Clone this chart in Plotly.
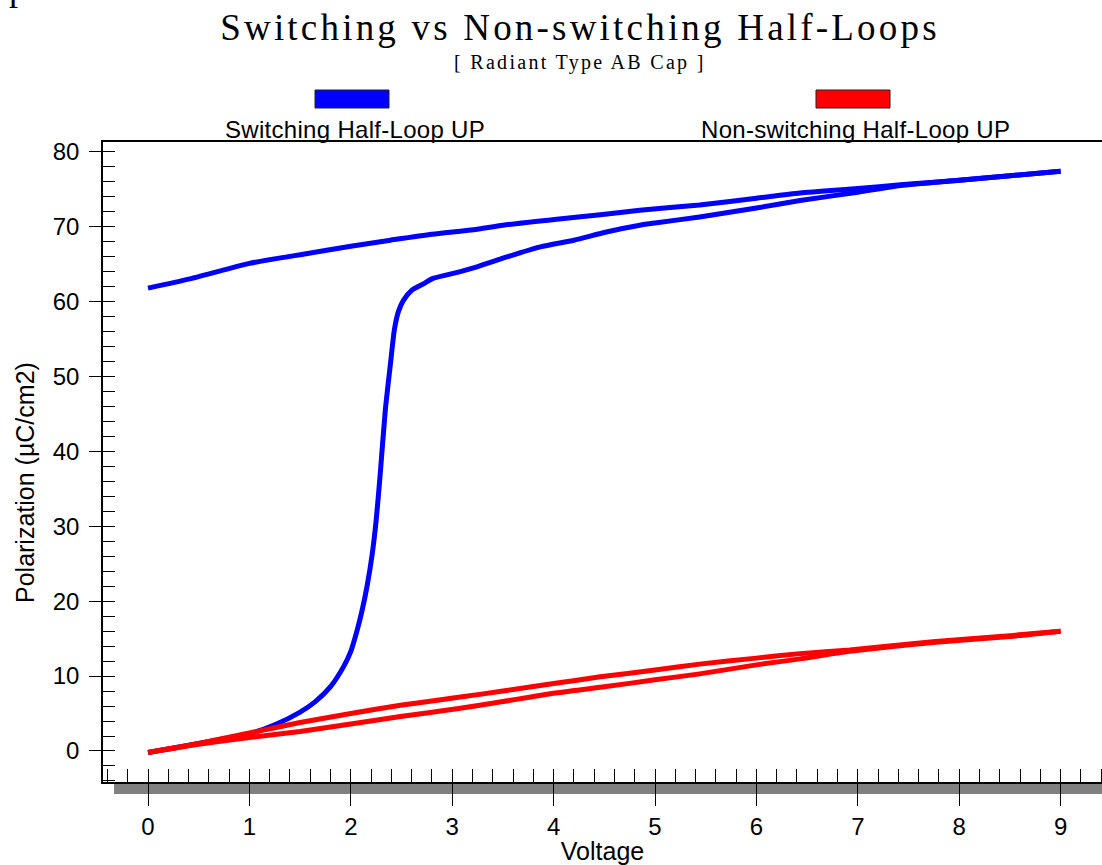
import plotly.graph_objects as go

# Switching half-loop UP: outgoing branch (0 -> 9 V)
sw_out_v = [0, 0.5, 1.0, 1.25, 1.5, 1.65, 1.8, 1.93, 2.0, 2.06, 2.11, 2.16, 2.21, 2.25, 2.29,
            2.34, 2.39, 2.43, 2.47, 2.52, 2.6, 2.72, 2.81, 3.08, 3.21, 3.5, 3.87, 4.2, 4.52, 4.85,
            5.0, 5.44, 6.0, 6.43, 7.0, 7.42, 8.0, 8.5, 9.0]
sw_out_p = [-0.2, 1.0, 2.3, 3.5, 5.2, 6.6, 8.6, 11.3, 13.3, 16.0, 18.7, 22.0, 26.2, 30.8, 37.0,
            45.5, 51.6, 56.3, 58.7, 60.2, 61.5, 62.4, 63.1, 64.0, 64.5, 65.8, 67.3, 68.2, 69.3, 70.2,
            70.5, 71.3, 72.5, 73.5, 74.6, 75.5, 76.2, 76.8, 77.4]
# Switching half-loop UP: return branch (9 -> 0 V)
sw_ret_v = [9.0, 8.5, 8.0, 7.42, 7.0, 6.43, 6.0, 5.44, 4.85, 4.46, 4.03, 3.5, 3.21, 2.8, 2.39,
            2.0, 1.56, 1.0, 0.74, 0.4, 0]
sw_ret_p = [77.4, 76.8, 76.2, 75.6, 75.1, 74.5, 73.8, 72.9, 72.2, 71.6, 71.0, 70.2, 69.6, 69.0, 68.2,
            67.4, 66.4, 65.1, 64.2, 63.0, 61.8]

# Non-switching half-loop UP: outgoing branch
ns_out_v = [0, 0.5, 1.0, 1.5, 2.0, 2.49, 3.08, 3.5, 4.0, 4.46, 5.0, 5.44, 6.0, 6.43, 6.92, 7.74, 8.5, 9.0]
ns_out_p = [-0.2, 1.0, 2.4, 3.8, 5.0, 6.1, 7.2, 8.0, 9.0, 9.9, 10.8, 11.6, 12.4, 13.0, 13.5, 14.6, 15.4, 16.0]
# Non-switching half-loop UP: return branch
ns_ret_v = [9.0, 8.5, 7.74, 6.92, 6.43, 6.0, 5.44, 5.0, 4.46, 4.0, 3.5, 3.08, 2.49, 2.0, 1.5, 1.0, 0.5, 0]
ns_ret_p = [16.0, 15.3, 14.5, 13.3, 12.3, 11.5, 10.3, 9.5, 8.5, 7.7, 6.6, 5.7, 4.6, 3.6, 2.6, 1.8, 0.9, -0.2]

x_ticks = [0, 1, 2, 3, 4, 5, 6, 7, 8, 9]
y_ticks = [0, 10, 20, 30, 40, 50, 60, 70, 80]

BLUE = "#0000ff"
RED = "#ff0000"
SANS = "Liberation Sans, Arial, sans-serif"
SERIF = "Liberation Serif, Times New Roman, serif"


def spaced(text, px_):
    return '<span style="letter-spacing:%spx">%s</span>' % (px_, text)


fig = go.Figure()
line_blue = dict(color=BLUE, width=5, shape="spline", smoothing=0.6)
line_red = dict(color=RED, width=5, shape="spline", smoothing=0.6)
fig.add_trace(go.Scatter(x=sw_out_v, y=sw_out_p, mode="lines", line=line_blue, name="Switching Half-Loop UP"))
fig.add_trace(go.Scatter(x=sw_ret_v, y=sw_ret_p, mode="lines", line=line_blue, showlegend=False))
fig.add_trace(go.Scatter(x=ns_out_v, y=ns_out_p, mode="lines", line=line_red, name="Non-switching Half-Loop UP"))
fig.add_trace(go.Scatter(x=ns_ret_v, y=ns_ret_p, mode="lines", line=line_red, showlegend=False))

L, R, T, B = 103, 0, 142, 83
W, H = 1102, 865
pw, ph = W - L - R, H - T - B


def px(xp):
    return (xp - L) / pw


def py(yp):
    return (H - B - yp) / ph


fig.update_layout(
    width=W, height=H,
    margin=dict(l=L, r=R, t=T, b=B, autoexpand=False),
    plot_bgcolor="white", paper_bgcolor="white",
    showlegend=False,
    title=dict(text=spaced("Switching vs Non-switching Half-Loops", 3.2), x=580 / W, xanchor="center",
               y=1 - 27 / H, yanchor="middle", font=dict(family=SERIF, size=37, color="black")),
)

fig.update_xaxes(
    range=[-0.444, 9.408], tickmode="array", tickvals=x_ticks, ticktext=[str(v) for v in x_ticks],
    ticks="outside", ticklen=22, tickwidth=1, tickcolor="black",
    minor=dict(ticks="inside", tickmode="linear", tick0=0, dtick=0.2, ticklen=13, tickwidth=1, tickcolor="black"),
    showline=True, linecolor="black", linewidth=1.5, mirror=True,
    showgrid=False, zeroline=False,
    tickfont=dict(family=SANS, size=24, color="black"),
    title=dict(text="Voltage", font=dict(family=SANS, size=25, color="black"), standoff=4),
    automargin=False,
)
fig.update_yaxes(
    range=[-4.14, 81.31], tickmode="array", tickvals=y_ticks, ticktext=[str(v) for v in y_ticks],
    ticks="outside", ticklen=12, tickwidth=1, tickcolor="black",
    minor=dict(ticks="inside", tickmode="linear", tick0=0, dtick=2, ticklen=12, tickwidth=1, tickcolor="black"),
    showline=True, linecolor="black", linewidth=1.5, mirror=False,
    showgrid=False, zeroline=False,
    tickfont=dict(family=SANS, size=24, color="black"),
    ticklabelstandoff=5,
    automargin=False,
)

# y-axis title (placed lower than plot centre, as in the reference)
fig.add_annotation(text="Polarization (µC/cm2)", xref="paper", yref="paper", x=px(25), y=py(483),
                   xanchor="center", yanchor="middle", textangle=-90, showarrow=False,
                   font=dict(family=SANS, size=25, color="black"))

# grey base bar under the x axis
fig.add_shape(type="rect", xref="paper", yref="paper", x0=px(114), x1=1.0, y0=py(794), y1=py(782.5),
              fillcolor="#808080", line=dict(width=0), layer="below")

# legend swatches and labels
fig.add_shape(type="rect", xref="paper", yref="paper", x0=px(315), x1=px(389), y0=py(108), y1=py(90),
              fillcolor=BLUE, line=dict(color="#222222", width=1))
fig.add_shape(type="rect", xref="paper", yref="paper", x0=px(816), x1=px(890), y0=py(108), y1=py(90),
              fillcolor=RED, line=dict(color="#222222", width=1))
fig.add_annotation(text=spaced("Switching Half-Loop UP", 0.3), xref="paper", yref="paper", x=px(354.5), y=py(130),
                   xanchor="center", yanchor="middle", showarrow=False,
                   font=dict(family=SANS, size=24, color="black"))
fig.add_annotation(text=spaced("Non-switching Half-Loop UP", 0.3), xref="paper", yref="paper", x=px(855), y=py(130),
                   xanchor="center", yanchor="middle", showarrow=False,
                   font=dict(family=SANS, size=24, color="black"))
# subtitle
fig.add_annotation(text=spaced("[ Radiant Type AB Cap ]", 2.3), xref="paper", yref="paper", x=px(580), y=py(62),
                   xanchor="center", yanchor="middle", showarrow=False,
                   font=dict(family=SERIF, size=20, color="black"))
# cut-off glyph at the top-left corner
fig.add_annotation(text="p", xref="paper", yref="paper", x=px(18), y=py(-34),
                   xanchor="center", yanchor="top", showarrow=False,
                   font=dict(family=SERIF, size=36, color="black"))

fig.write_html("out.html")
